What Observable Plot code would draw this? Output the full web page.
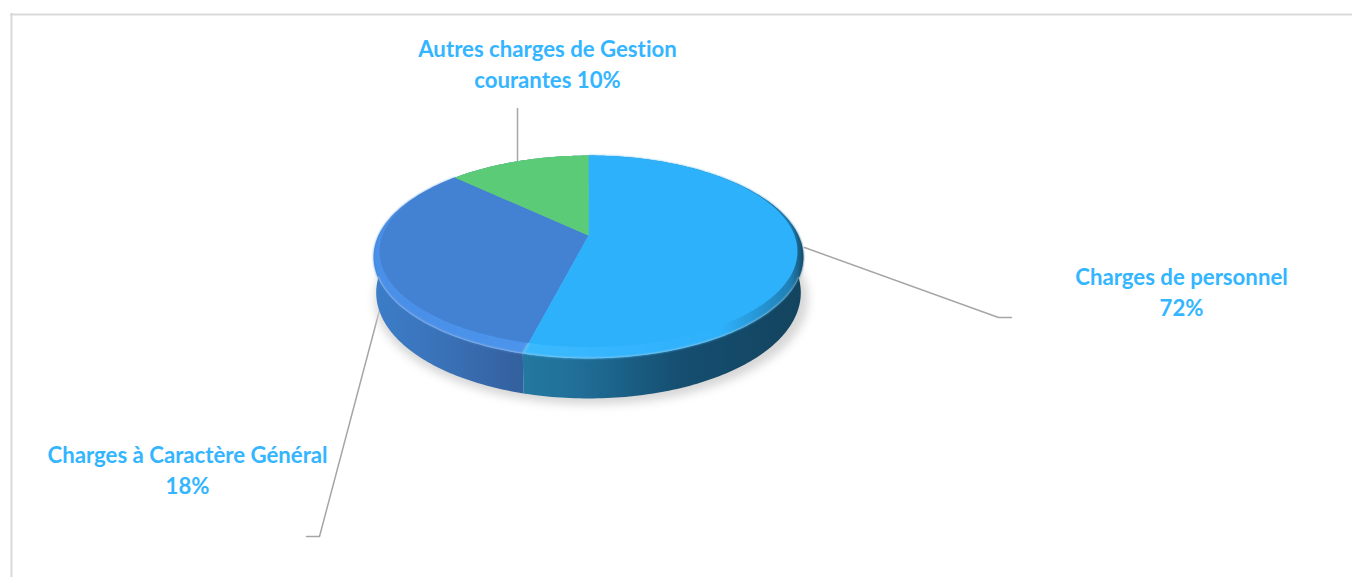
<!DOCTYPE html>
<html lang="fr">
<head>
<meta charset="utf-8">
<style>html,body{margin:0;padding:0;background:#fff}svg{display:block}svg text{font-variant-ligatures:none}</style>
<script src="https://cdn.jsdelivr.net/npm/d3@7"></script>
<script src="https://cdn.jsdelivr.net/npm/@observablehq/plot@0.6"></script>
</head>
<body>
<div id="chart"></div>
<script>
// Values
const sliceNames = ["Charges de personnel", "Charges à Caractère Général", "Autres charges de Gestion courantes"];
const sliceShares = [54, 33, 13];            // drawn size of each slice
const labelTexts = ["Autres charges de Gestion\ncourantes 10%", "Charges de personnel\n72%", "Charges à Caractère Général\n18%"];
const labelX = [547, 1181, 187];
const labelY = [62.5, 290.5, 468.5];
const leaderGroups = [0, 0, 1, 1, 1, 2, 2, 2];
const leaderX = [517, 517, 804, 998, 1011, 380, 319, 306];
const leaderY = [108, 160, 247, 317, 317, 306, 536, 536];

// Layout of the tilted disc (a perspective view of the unit circle)
const cx = 588, cy = 235, kx = 210, ky = 96.9, persp = 0.212;
const project = (u, v) => [cx + kx * u / (1 - persp * v), cy + ky * v / (1 - persp * v)];
const polar = (deg, r) => {
  const t = deg * Math.PI / 180;
  return project(r * Math.sin(t), -r * Math.cos(t));
};
const bevel = deg => 0.075 * Math.pow((1 - Math.cos(deg * Math.PI / 180)) / 2, 2);
const edge = deg => {
  const [x, y] = polar(deg, 1 - bevel(deg));
  return {x, y};
};
const rim = deg => {
  const [x, y] = polar(deg, 1);
  return {x, y};
};
const base = deg => {
  const [x, y] = polar(deg, 1);
  const v = -Math.cos(deg * Math.PI / 180);
  return {x: cx + (x - cx) * 0.988, y: y + 34.5 + 5.5 * v};
};
const total = d3.sum(sliceShares);
const cuts = d3.cumsum(sliceShares).map(s => s / total * 360);
const ranges = sliceShares.map((_, i) => [i ? cuts[i - 1] : 0, cuts[i]]);
const degs = ([a, b]) => d3.range(a, b, 1).concat(b);
const wedge = (range, f) => [{x: cx, y: cy}, ...degs(range).map(f)];
const wall = range => [...degs(range).map(rim), ...degs(range).reverse().map(base)];
const disc = f => d3.range(0, 360, 2).map(f);

const defs = () => {
  const g = document.createElementNS("http://www.w3.org/2000/svg", "defs");
  const grad = (id, stops) =>
    `<linearGradient id="${id}" gradientUnits="userSpaceOnUse" x1="373" y1="0" x2="803" y2="0">` +
    stops.map(([x, c]) => `<stop offset="${(x - 373) / 430}" stop-color="${c}"/>`).join("") + `</linearGradient>`;
  g.innerHTML =
    grad("wallA", [[525, "#23789f"], [575, "#216f99"], [620, "#1b6188"], [680, "#154e70"], [800, "#13445f"]]) +
    grad("wallB", [[373, "#3c7dc9"], [440, "#3a72b8"], [525, "#335f9d"]]) +
    grad("rimA", [[525, "#3cbaff"], [640, "#33b4fd"], [720, "#2eb1fb"], [790, "#1f7fb5"], [803, "#174f6f"]]) +
    grad("rimB", [[373, "#4a8fe8"], [525, "#4c94ec"]]);
  return g;
};

const poly = (data, fill, extra = {}) =>
  Plot.line(data, {x: "x", y: "y", fill, stroke: "none", ...extra});

const chart = Plot.plot({
  width: 1352,
  height: 577,
  margin: 0,
  x: {domain: [0, 1352], range: [0, 1352], axis: null},
  y: {domain: [0, 577], range: [0, 577], axis: null},
  marks: [
    defs,
    // frame
    Plot.ruleY([14], {x1: 10, x2: 1352, stroke: "#d9d9d9", strokeWidth: 2}),
    Plot.ruleX([11], {y1: 13, y2: 577, stroke: "#d9d9d9", strokeWidth: 2}),
    // leader lines
    Plot.line(leaderX.map((x, i) => ({x, y: leaderY[i], g: leaderGroups[i]})), {
      x: "x", y: "y", z: "g", stroke: "#a6a6a6", strokeWidth: 1.5
    }),
    // soft shadow
    poly(disc(d => {
      const p = base(d);
      return {x: cx + (p.x - cx) * 1.02 + 3, y: p.y + 6};
    }), "#d6d6d6", {imageFilter: "blur(5px)"}),
    // walls
    poly(wall(ranges[2]), "#3c7dc9"),
    poly(wall(ranges[1]), "url(#wallB)"),
    poly(wall(ranges[0]), "url(#wallA)"),
    // lit rounded rim
    poly(wedge(ranges[1], rim), "url(#rimB)", {imageFilter: "blur(1px)"}),
    poly(wedge(ranges[0], rim), "url(#rimA)", {imageFilter: "blur(1px)"}),
    poly(wedge(ranges[2], rim), "#5ccb77"),
    // flat top
    poly(wedge(ranges[1], edge), "#4381d3"),
    poly(wedge(ranges[0], edge), "#2eb1fb"),
    poly(wedge(ranges[2], edge), "#5ccb77"),
    // labels
    Plot.text(labelTexts, {
      x: (_, i) => labelX[i],
      y: (_, i) => labelY[i],
      text: d => d,
      fill: "#33b5ff",
      fontFamily: "Lato",
      fontWeight: 700,
      fontSize: 22.2,
      lineHeight: 1.4,
      textAnchor: "middle"
    })
  ]
});
document.getElementById("chart").append(chart);
</script>
</body>
</html>
